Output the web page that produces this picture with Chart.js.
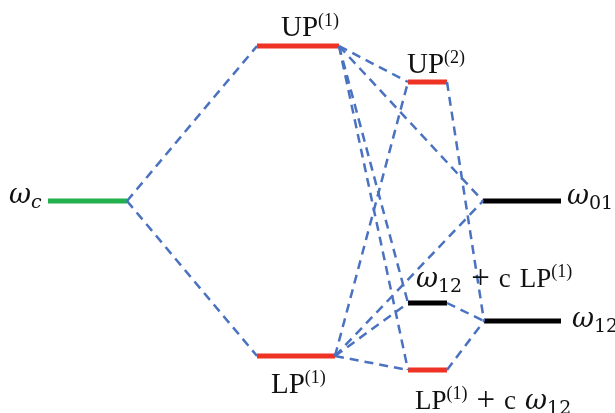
<!DOCTYPE html>
<html>
<head>
<meta charset="utf-8">
<script src="https://cdn.jsdelivr.net/npm/chart.js@4"></script>
<style>
  html, body { margin: 0; padding: 0; background: #fff; }
  #wrap { width: 615px; height: 413px; }
</style>
</head>
<body>
<div id="wrap"><canvas id="diagram" width="615" height="413"></canvas></div>
<script>
// energy levels (x = column span, y = energy, top of page = high)
const levelNames = ["wc", "UP1", "LP1", "UP2", "w12cLP", "LPcw12", "w01", "w12"];
const levelKind  = ["cavity", "polariton", "polariton", "polariton", "qubit", "polariton", "qubit", "qubit"];
const levelY     = [201, 46, 356, 82, 303, 370, 201, 321];
const levelX0    = [48, 257, 257, 408, 408, 408, 483, 484];
const levelX1    = [127, 339, 335, 447, 447, 447, 561, 561];

// dashed couplings: right end of first level -> left end of second
const linkFrom = ["wc", "wc", "UP1", "UP1", "UP1", "UP1", "LP1", "LP1", "LP1", "LP1", "UP2", "w12cLP", "LPcw12"];
const linkTo   = ["UP1", "LP1", "UP2", "w01", "w12cLP", "LPcw12", "UP2", "w01", "w12cLP", "LPcw12", "w12", "w12", "w12"];

// labels: runs of [text, kind], anchored at (x, baseline y)
const labelParts = [
  [["UP", "r"], ["(1)", "sup"]],
  [["UP", "r"], ["(2)", "sup"]],
  [["LP", "r"], ["(1)", "sup"]],
  [["ω", "w"], ["c", "subi"]],
  [["ω", "w"], ["01", "sub"]],
  [["ω", "w"], ["12", "sub"]],
  [["ω", "w"], ["12", "sub"], ["", "sp"], ["+", "plus"], ["", "sp"], ["c", "op"], ["", "sp"], ["LP", "rs"], ["(1)", "sup"]],
  [["LP", "rs"], ["(1)", "sup"], ["", "sp"], ["+", "plus"], ["", "sp"], ["c", "op"], ["", "sp"], ["ω", "w"], ["12", "sub"]]
];
const labelX = [281, 407, 271, 9, 567, 572, 416, 415];
const labelY = [36, 73, 393, 203, 204, 327, 287, 409];

const colors = { cavity: "#22b14c", polariton: "#ee3224", qubit: "#000000" };
const idx = n => levelNames.indexOf(n);

const datasets = [];
linkFrom.forEach((f, i) => {
  const a = idx(f), b = idx(linkTo[i]);
  datasets.push({
    data: [{ x: levelX1[a], y: levelY[a] }, { x: levelX0[b], y: levelY[b] }],
    showLine: true, borderColor: "#4a72c0", borderWidth: 2.5,
    borderDash: [9, 6], pointRadius: 0, fill: false
  });
});
levelNames.forEach((n, i) => {
  datasets.push({
    data: [{ x: levelX0[i], y: levelY[i] }, { x: levelX1[i], y: levelY[i] }],
    showLine: true, borderColor: colors[levelKind[i]], borderWidth: 5,
    borderCapStyle: "butt", pointRadius: 0, fill: false
  });
});

const fonts = {
  r:    { f: "29px 'Liberation Serif'", dy: 0 },
  rs:   { f: "27px 'Liberation Serif'", dy: 0 },
  sup:  { f: "18px 'Liberation Serif'", dy: -10 },
  op:   { f: "27px 'Liberation Serif'", dy: 0 },
  plus: { f: "33px 'Liberation Serif'", dy: 1 },
  sp:   { f: "10px sans-serif", dy: 0, w: 9 },
  w:    { f: "italic 27px 'DejaVu Serif'", dy: 0 },
  sub:  { f: "19px 'DejaVu Serif'", dy: 5 },
  subi: { f: "italic 19px 'DejaVu Serif'", dy: 5 }
};

const textPlugin = {
  id: "levelText",
  afterDraw(chart) {
    const ctx = chart.ctx, sx = chart.scales.x, sy = chart.scales.y;
    ctx.save();
    ctx.fillStyle = "#111";
    ctx.textBaseline = "alphabetic";
    labelParts.forEach((parts, i) => {
      let x = sx.getPixelForValue(labelX[i]);
      const y = sy.getPixelForValue(labelY[i]);
      parts.forEach(([t, k]) => {
        const st = fonts[k];
        if (st.w) { x += st.w; return; }
        ctx.font = st.f;
        ctx.fillText(t, x, y + st.dy);
        x += ctx.measureText(t).width;
      });
    });
    ctx.restore();
  }
};

new Chart(document.getElementById("diagram"), {
  type: "scatter",
  data: { datasets },
  options: {
    responsive: false,
    animation: false,
    layout: { padding: 0 },
    scales: {
      x: { type: "linear", min: 0, max: 615, display: false },
      y: { type: "linear", min: 0, max: 413, reverse: true, display: false }
    },
    plugins: { legend: { display: false }, tooltip: { enabled: false } }
  },
  plugins: [textPlugin]
});
</script>
</body>
</html>
